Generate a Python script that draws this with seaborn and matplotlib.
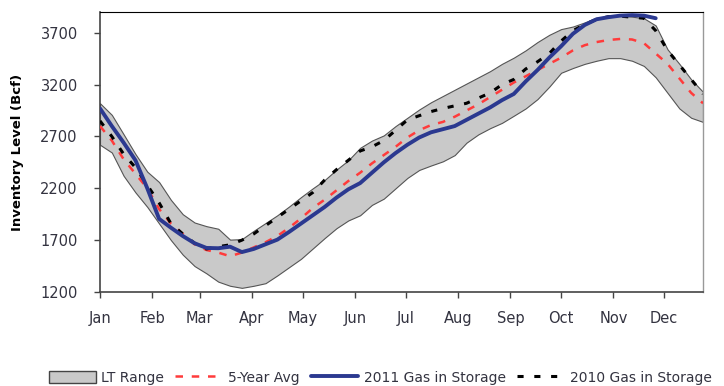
import numpy as np
import pandas as pd
import matplotlib
matplotlib.use("Agg")
import matplotlib.pyplot as plt
import seaborn as sns
from matplotlib.patches import Patch
from matplotlib.lines import Line2D

# day of year (weekly)
days = list(range(0, 358, 7))

lt_upper = [3020, 2908, 2720, 2530, 2360, 2260, 2088, 1950, 1870, 1835,
            1810, 1705, 1710, 1790, 1865, 1940, 2025, 2115, 2200, 2280,
            2380, 2470, 2590, 2660, 2710, 2800, 2880, 2960, 3030, 3090,
            3150, 3210, 3270, 3330, 3400, 3460, 3530, 3610, 3680, 3735,
            3760, 3800, 3845, 3860, 3865, 3855, 3840, 3770, 3540, 3400,
            3250, 3130]
lt_lower = [2620, 2545, 2320, 2160, 2020, 1860, 1700, 1560, 1450, 1380,
            1300, 1260, 1240, 1260, 1285, 1360, 1440, 1520, 1620, 1720,
            1815, 1890, 1940, 2040, 2100, 2200, 2300, 2377, 2420, 2460,
            2520, 2640, 2720, 2780, 2831, 2900, 2970, 3060, 3180, 3314,
            3360, 3400, 3430, 3455, 3455, 3430, 3380, 3270, 3120, 2970,
            2880, 2840]
avg5 = [2800, 2660, 2480, 2340, 2200, 2000, 1860, 1760, 1660, 1605,
        1580, 1545, 1580, 1630, 1680, 1740, 1820, 1910, 2010, 2090,
        2180, 2270, 2350, 2440, 2520, 2600, 2690, 2760, 2810, 2840,
        2890, 2950, 3010, 3080, 3150, 3220, 3280, 3340, 3400, 3460,
        3530, 3580, 3610, 3630, 3640, 3635, 3600, 3500, 3400, 3260,
        3120, 3020]
gas2011 = [2970, 2800, 2640, 2470, 2200, 1905, 1820, 1740, 1670, 1625,
           1622, 1637, 1585, 1615, 1660, 1705, 1780, 1860, 1940, 2020,
           2110, 2190, 2250, 2350, 2450, 2540, 2620, 2690, 2740, 2770,
           2800, 2860, 2920, 2980, 3050, 3110, 3230, 3340, 3460, 3570,
           3690, 3775, 3830, 3850, 3865, 3870, 3865, 3840]
gas2010 = [2850, 2700, 2530, 2400, 2230, 2060, 1860, 1760, 1670, 1615,
           1637, 1655, 1700, 1760, 1840, 1920, 2000, 2080, 2160, 2280,
           2380, 2470, 2560, 2600, 2660, 2760, 2860, 2900, 2940, 2970,
           2995, 3020, 3070, 3120, 3200, 3250, 3350, 3420, 3500, 3620,
           3720, 3780, 3830, 3855, 3860, 3850, 3840, 3720, 3530, 3390,
           3250, 3110]

month_labels = ["Jan", "Feb", "Mar", "Apr", "May", "Jun",
                "Jul", "Aug", "Sep", "Oct", "Nov", "Dec"]
month_starts = [0, 31, 59, 90, 120, 151, 181, 212, 243, 273, 304, 334]
y_ticks = [1200, 1700, 2200, 2700, 3200, 3700]

sns.set_theme(style="white")
plt.rcParams['font.family'] = ['DejaVu Sans']

fig = plt.figure(figsize=(7.24, 3.86), dpi=100)
ax = fig.add_axes([100/724, 1 - 292/386, 603/724, 280/386])

TXT = "#333340"
ax.fill_between(days, lt_lower, lt_upper, facecolor="#c9c9c9",
                edgecolor="#555555", linewidth=0.8, zorder=1)

df_avg = pd.DataFrame({"day": days, "val": avg5})
df_11 = pd.DataFrame({"day": days[:len(gas2011)], "val": gas2011})
df_10 = pd.DataFrame({"day": days, "val": gas2010})

sns.lineplot(data=df_avg, x="day", y="val", ax=ax, color="#ff3b3b",
             linewidth=1.8, zorder=3).lines[-1].set_dashes([3, 3.5])
sns.lineplot(data=df_10, x="day", y="val", ax=ax, color="black",
             linewidth=2.2, zorder=4).lines[-1].set_dashes([2, 3.5])
sns.lineplot(data=df_11, x="day", y="val", ax=ax, color="#2b3990",
             linewidth=2.8, zorder=5)

ax.set_xlim(0, 357)
ax.set_ylim(1200, 3900)
ax.set_xticks(month_starts)
ax.set_xticklabels(month_labels)
ax.set_yticks(y_ticks)
ax.set_xlabel("")
ax.set_ylabel("Inventory Level (Bcf)", fontsize=9.5, fontweight="bold",
              color="black", labelpad=12)
ax.tick_params(axis="both", which="both", direction="out", length=4,
               width=1, colors="#444444", labelsize=10.5, labelcolor=TXT,
               bottom=True, left=True)
ax.tick_params(axis="x", pad=10)
ax.tick_params(axis="y", pad=12)
for s in ["left", "bottom"]:
    ax.spines[s].set_color("#444444")
    ax.spines[s].set_linewidth(1.2)
ax.spines["top"].set_color("black")
ax.spines["top"].set_linewidth(0.8)
ax.spines["right"].set_color("#999999")
ax.spines["right"].set_linewidth(1.0)

handles = [
    Patch(facecolor="#c9c9c9", edgecolor="#444444", linewidth=1.0, label="LT Range"),
    Line2D([0], [0], color="#ff3b3b", linewidth=1.8, dashes=[3, 3.5], label="5-Year Avg"),
    Line2D([0], [0], color="#2b3990", linewidth=2.8, label="2011 Gas in Storage"),
    Line2D([0], [0], color="black", linewidth=2.2, dashes=[2, 3.5], label="2010 Gas in Storage"),
]
leg = fig.legend(handles=handles, loc="center", ncol=4, frameon=False,
                 bbox_to_anchor=(0.525, 0.022), fontsize=10, handlelength=3.4,
                 handleheight=1.0, columnspacing=0.8, handletextpad=0.4)
for t in leg.get_texts():
    t.set_color(TXT)

fig.savefig("out.png", dpi=100)
